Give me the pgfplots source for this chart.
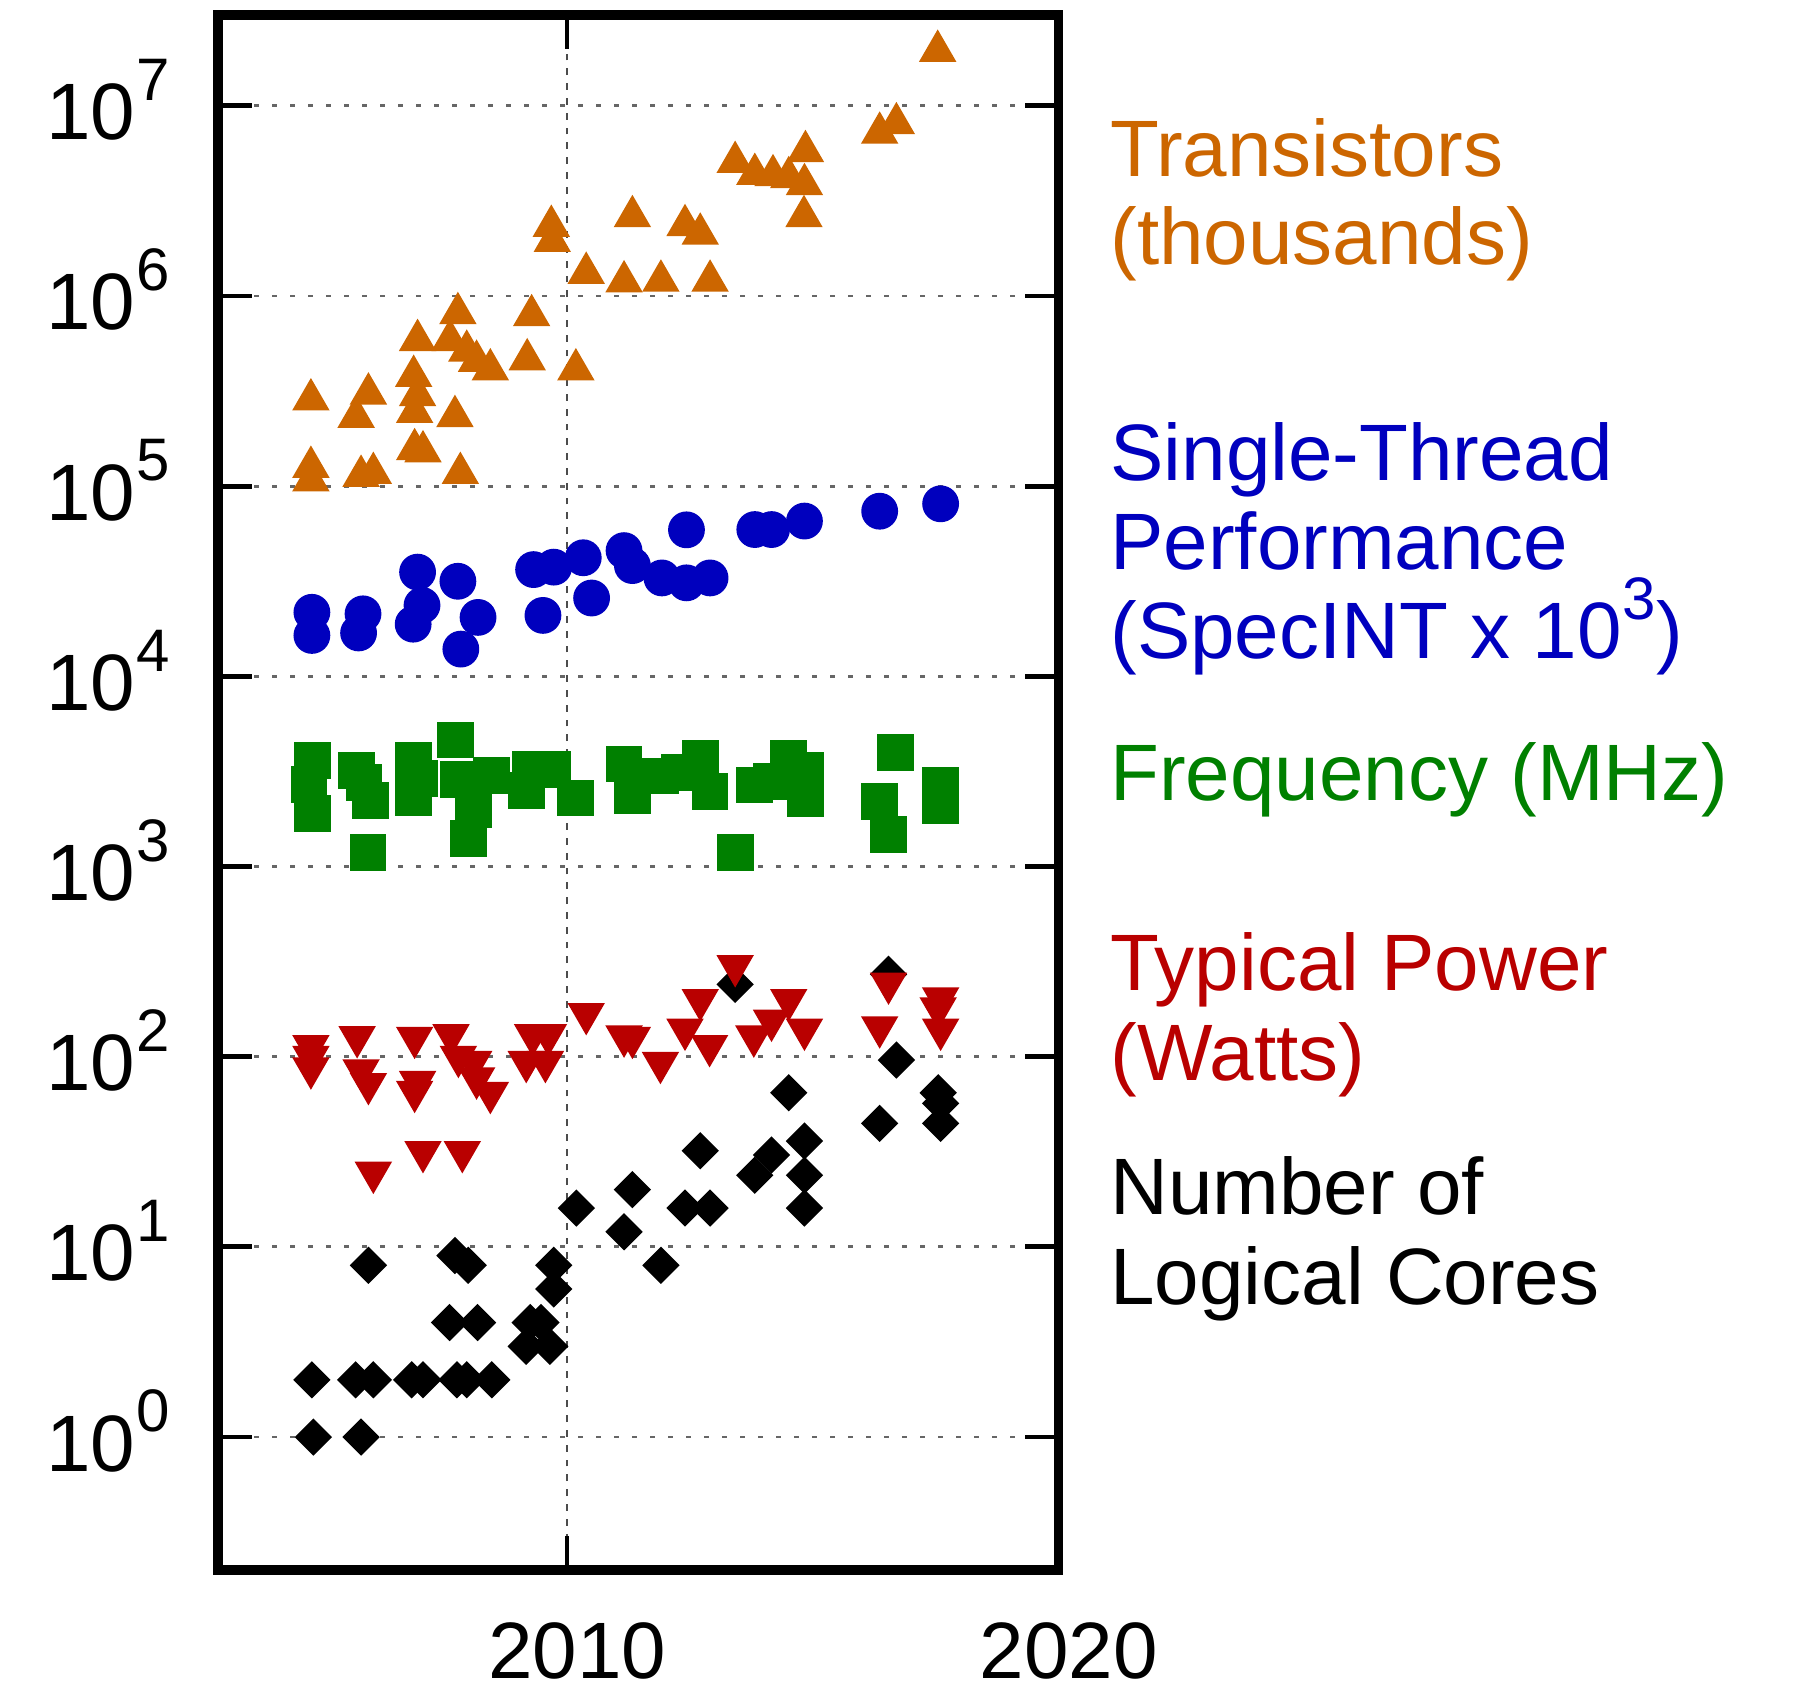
\documentclass[border=0pt]{standalone}
\usepackage{fontspec}
\setmainfont{Liberation Sans}
\usepackage{pgfplots}
\pgfplotsset{compat=1.18}
\definecolor{ctrans}{RGB}{204,102,0}
\definecolor{cperf}{RGB}{0,0,190}
\definecolor{cfreq}{RGB}{0,128,0}
\definecolor{cpow}{RGB}{185,0,0}
\newcommand{\pw}[1]{\kern0.3pt\raisebox{9.8pt}{\fontsize{15}{15}\selectfont #1}}
\begin{document}
\begin{tikzpicture}[font=\fontsize{20}{22}\selectfont]
\path[use as bounding box] (-54.5pt,-29.75pt) rectangle (394pt,392.5pt);
\begin{axis}[
  at={(0pt,0pt)}, anchor=south west,
  scale only axis, width=210.15pt, height=388.75pt,
  xmin=2002.9, xmax=2020, ymode=log, ymin=0.2, ymax=3e7,
  xtick={2010,2020}, xticklabels={2010,2020},
  ytick={1,10,100,1000,10000,100000,1000000,10000000},
  yticklabels={10\pw{0},10\pw{1},10\pw{2},10\pw{3},10\pw{4},10\pw{5},10\pw{6},10\pw{7}},
  yminorticks=false, xminorticks=false,
  tick align=inside,
  major tick length=8.5pt,
  tick style={line width=1.2pt, black},
  axis line style={line width=2.4pt},
  ymajorgrids, xmajorgrids,
  y grid style={black!60, line width=0.7pt, dash pattern=on 1.3pt off 3.2pt},
  x grid style={black!70, line width=0.4pt, dash pattern=on 1.7pt off 2pt},
  tick label style={font=\fontsize{20}{22}\selectfont},
  xticklabel style={anchor=base, yshift=-27pt, xshift=2.5pt},
  yticklabel style={anchor=base east, inner sep=0pt, xshift=-11.8pt, yshift=-8.5pt},
  clip=false,
]
% Transistors (thousands)
\addplot[only marks, color=ctrans, mark=triangle*, mark size=5.0pt, mark options={solid, line width=0.4pt, fill=ctrans, draw=ctrans}] table {
x y
2017.54 1.94e7
2016.36 7.2e6
2016.70 8.07e6
2013.42 5.05e6
2013.82 4.37e6
2014.19 4.3e6
2014.51 4.2e6
2014.85 5.76e6
2014.83 3.86e6
2014.82 2.62e6
2009.68 2.33e6
2009.70 1.94e6
2011.33 2.62e6
2012.40 2.35e6
2012.71 2.12e6
2010.39 1.32e6
2011.16 1.19e6
2011.91 1.2e6
2012.91 1.2e6
2007.78 8.1e5
2009.28 7.9e5
2006.96 5.85e5
2007.62 5.85e5
2007.96 5.14e5
2008.16 4.55e5
2008.44 4.1e5
2009.19 4.63e5
2010.18 4.1e5
2006.88 3.79e5
2006.96 3.0e5
2006.90 2.45e5
2007.72 2.33e5
2004.79 2.85e5
2005.96 3.06e5
2005.71 2.31e5
2006.90 1.56e5
2007.07 1.52e5
2007.83 1.17e5
2004.79 1.26e5
2004.79 1.07e5
2005.81 1.13e5
2006.06 1.17e5
};
% Single-thread performance
\addplot[only marks, color=cperf, mark=*, mark size=4.4pt, mark options={solid, line width=0.4pt, fill=cperf, draw=cperf}] table {
x y
2017.60 8.07e4
2016.36 7.38e4
2014.83 6.55e4
2014.16 5.91e4
2013.82 5.91e4
2012.43 5.89e4
2011.16 4.58e4
2011.33 3.82e4
2010.33 4.2e4
2009.73 3.75e4
2009.32 3.64e4
2011.93 3.29e4
2012.43 3.1e4
2012.91 3.29e4
2010.50 2.58e4
2009.51 2.09e4
2006.96 3.53e4
2007.78 3.16e4
2007.05 2.36e4
2006.87 1.88e4
2008.19 2.04e4
2007.84 1.39e4
2004.81 2.17e4
2004.81 1.64e4
2005.85 2.13e4
2005.76 1.69e4
};
% Frequency (MHz)
\addplot[only marks, color=cfreq, mark=square*, mark size=4.4pt, mark options={solid, line width=0.4pt, fill=cfreq, draw=cfreq}] table {
x y
2004.82 3600
2004.75 2700
2004.82 1900
2005.71 3200
2005.87 2770
2006.00 2220
2005.95 1190
2006.87 3620
2007.00 2900
2006.87 2310
2007.73 4620
2007.80 2880
2008.10 2000
2007.99 1400
2008.47 3000
2009.25 3250
2009.70 3250
2009.18 2500
2010.18 2290
2011.16 3460
2011.33 2370
2011.90 2990
2012.28 3120
2012.71 3720
2012.91 2470
2013.42 1185
2013.82 2680
2014.16 2790
2014.51 3700
2014.85 3190
2014.85 2280
2016.68 3980
2016.36 2190
2016.54 1480
2017.60 2660
2017.60 2090
};
% Number of logical cores
\addplot[only marks, color=black, mark=square*, mark size=3.1pt, mark options={solid, line width=0.4pt, rotate=45, fill=black, draw=black}] table {
x y
2013.42 240
2016.54 271
2016.70 96
2014.51 64.6
2017.55 64.6
2017.60 56.8
2017.60 44.6
2016.36 44.6
2014.83 36
2012.71 32
2014.16 30.4
2013.82 23.8
2014.83 23.8
2011.33 20
2010.19 16
2012.40 16
2012.91 16
2014.83 16
2011.16 12
2011.91 8
2005.96 8
2007.72 9
2007.99 8
2009.73 8
2009.73 6
2007.61 4
2008.18 4
2009.25 4
2009.47 4
2009.17 3
2009.65 3
2004.81 2
2005.70 2
2006.06 2
2006.84 2
2007.07 2
2007.76 2
2007.96 2
2008.47 2
2004.84 1
2005.81 1
};
% Typical power (Watts)
\addplot[only marks, color=cpow, mark=triangle*, mark size=5.0pt, mark options={solid, line width=0.4pt, rotate=180, fill=cpow, draw=cpow}] table {
x y
2013.42 300
2012.71 199
2014.51 199
2014.16 155
2014.83 139
2016.54 243
2017.60 203
2017.55 180
2017.60 139
2016.36 143
2010.39 168
2012.40 139
2012.90 114
2013.80 128
2011.16 128
2011.33 126
2011.90 93
2009.30 130
2009.62 130
2009.17 94
2009.56 94
2007.64 130
2007.79 100
2008.10 94
2008.16 77
2008.44 64.6
2006.90 126
2006.96 73.8
2006.90 65.5
2005.73 127
2005.81 85
2005.96 72
2004.79 114
2004.79 100
2004.79 87
2007.07 31.6
2007.87 31.6
2006.06 24.6
};
\end{axis}
\begin{scope}[every node/.style={anchor=base west, inner sep=0pt}]
\node[text=ctrans] at (222.9pt,348.25pt) {Transistors};
\node[text=ctrans] at (222.9pt,326.25pt) {(thousands)};
\node[text=cperf] at (222.9pt,272.4pt) {Single-Thread};
\node[text=cperf] at (222.9pt,250pt) {Performance};
\node[text=cperf] at (222.9pt,227.75pt) {(SpecINT x 10\pw{3})};
\node[text=cfreq] at (222.9pt,192.25pt) {Frequency (MHz)};
\node[text=cpow] at (222.9pt,144.75pt) {Typical Power};
\node[text=cpow] at (222.9pt,122.25pt) {(Watts)};
\node[text=black] at (222.9pt,88.75pt) {Number of};
\node[text=black] at (222.9pt,66.5pt) {Logical Cores};
\end{scope}
\end{tikzpicture}
\end{document}
